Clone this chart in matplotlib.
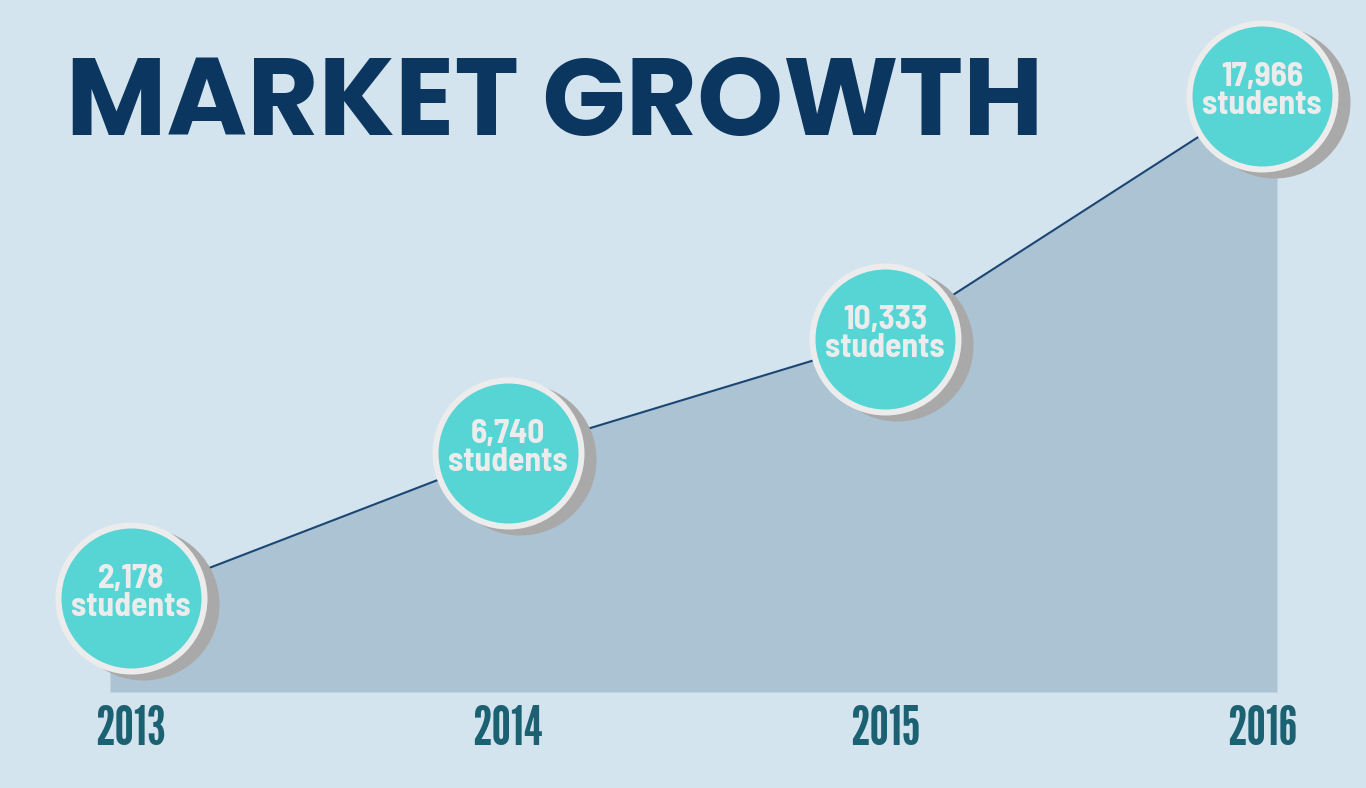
import numpy as np
import matplotlib
matplotlib.use('Agg')
import matplotlib.pyplot as plt
from matplotlib import font_manager as fm
from matplotlib.transforms import offset_copy, blended_transform_factory

# data
YEARS = [2013, 2014, 2015, 2016]
STUDENTS = [2178, 6740, 10333, 17966]
LABELS = ['2,178', '6,740', '10,333', '17,966']
TITLE = 'MARKET GROWTH'

BG = '#d4e4ef'
AREA = '#abc3d3'
NAVY = '#0a365f'
LINE = '#1b4673'
TEAL = '#57d5d5'
RING = '#ececec'
SHADOW = '#a9a9a9'
YEARCOL = '#1b6172'
BUBBLE_FONT = ['Barlow Semi Condensed', 'DejaVu Sans']
YEAR_FONT = ['League Gothic', 'Oswald', 'DejaVu Sans']


def bold_family(cands):
    # first family that really has a bold file (variable fonts only give the default instance)
    have = {}
    for f in fm.fontManager.ttflist:
        w = f.weight if isinstance(f.weight, int) else 400
        have[f.name] = max(have.get(f.name, 0), w)
    for c in cands:
        if have.get(c, 0) >= 700:
            return c
    return 'DejaVu Sans'


TITLE_FONT = bold_family(['Montserrat', 'Poppins', 'League Spartan', 'Red Hat Display', 'Lato'])

W, H = 1366, 788
fig = plt.figure(figsize=(W / 100, H / 100), dpi=100, facecolor=BG)
ax = fig.add_axes([0, 0, 1, 1])
ax.set_facecolor(BG)
ax.axis('off')

# pixel layout -> data limits
X0, XSTEP = 131, 377          # px of first year, px per year
BASE_PX, OFF, K = 692, 24.7, 0.0318   # baseline px, lift above baseline, px per student
ax.set_xlim(YEARS[0] - X0 / XSTEP, YEARS[0] + (W - X0) / XSTEP)
ax.set_ylim((BASE_PX - H - OFF) / K, (BASE_PX - OFF) / K)
base = -OFF / K

x = np.array(YEARS, dtype=float)
y = np.array(STUDENTS, dtype=float)

# area, a bit wider than the first/last point
el, er = 21 / XSTEP, 15 / XSTEP
xa = np.concatenate([[x[0] - el], x, [x[-1] + er]])
ya = np.concatenate([[y[0] - (y[1] - y[0]) * el], y, [y[-1] + (y[-1] - y[-2]) * er]])
ax.fill_between(xa, base, ya, color=AREA, lw=0, zorder=1)
ax.plot(x, y, color=LINE, lw=1.5, zorder=2)

# circles: shadow, ring, teal disc
d_px, ring_px = 146, 6
s_in = (d_px * 0.72) ** 2
s_out = ((d_px + ring_px) * 0.72) ** 2
sh = offset_copy(ax.transData, fig=fig, x=12, y=-6, units='dots')
ax.scatter(x, y, s=s_out, color=SHADOW, lw=0, transform=sh, zorder=3)
ax.scatter(x, y, s=s_in, color=TEAL, edgecolor=RING, linewidth=ring_px * 0.72, zorder=4)

for xi, yi, lab in zip(x, y, LABELS):
    t1 = offset_copy(ax.transData, fig=fig, x=0, y=19, units='dots')
    t2 = offset_copy(ax.transData, fig=fig, x=0, y=-9, units='dots')
    ax.text(xi, yi, lab, transform=t1, ha='center', va='center', color=RING,
            fontsize=24, fontweight='bold', family=BUBBLE_FONT, zorder=5)
    ax.text(xi, yi, 'students', transform=t2, ha='center', va='center', color=RING,
            fontsize=24, fontweight='bold', family=BUBBLE_FONT, zorder=5)

# year labels
tr = blended_transform_factory(ax.transData, fig.transFigure)
for xi, yr in zip(x, YEARS):
    ax.text(xi, 1 - 745 / H, str(yr), transform=tr, ha='center', va='baseline',
            color=YEARCOL, fontsize=39, family=YEAR_FONT)

title = fig.text(66 / W, 1 - 135 / H, TITLE, ha='left', va='baseline', color=NAVY,
                 fontsize=76, fontweight='bold', family=TITLE_FONT)
# fit title to ~977 px wide, as in the reference
w = title.get_window_extent(fig.canvas.get_renderer()).width
if w > 0:
    title.set_fontsize(min(80, 76 * 977 / w))

fig.savefig('out.png', dpi=100, facecolor=BG)
